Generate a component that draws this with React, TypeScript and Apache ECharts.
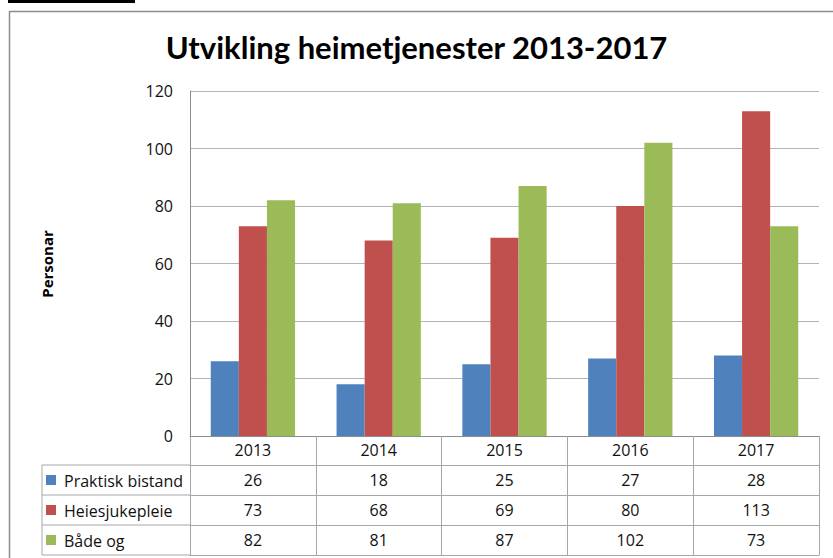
import React, { useEffect, useRef } from "react";
import * as echarts from "echarts";

const years = ["2013", "2014", "2015", "2016", "2017"];
const praktiskBistand = [26, 18, 25, 27, 28];
const heimesjukepleie = [73, 68, 69, 80, 113];
const baadeOg = [82, 81, 87, 102, 73];
const seriesNames = ["Praktisk bistand", "Heiesjukepleie", "Både og"];
const seriesValues = [praktiskBistand, heimesjukepleie, baadeOg];
const colors = ["#4F81BD", "#C0504D", "#9BBB59"];
const yMin = 0;
const yMax = 120;
const yStep = 20;

const FONT = "'Open Sans', sans-serif";

export default function App() {
  const ref = useRef<HTMLDivElement>(null);
  useEffect(() => {
    if (!ref.current) return;
    const chart = echarts.init(ref.current, undefined, { renderer: "svg" });
    const gridLeft = 190;
    const gridRight = 14;
    const gridTop = 91;
    const gridBottom = 122;
    const axisY = 558 - gridBottom; // 436
    const rowH = 30;
    const firstRowTop = axisY + 29;
    const tableLeft = 42;
    const lineColor = "#a6a6a6";
    const fs = 16;

    const valueAxes = seriesValues.map((vals, i) => ({
      type: "category",
      data: vals.map(String),
      position: "bottom",
      offset: 29 + i * rowH,
      axisLine: { show: true, lineStyle: { color: lineColor, width: 1 } },
      axisTick: { show: false },
      axisLabel: { show: true, interval: 0, margin: 7, fontSize: fs, color: "#111", fontFamily: FONT },
      splitLine: { show: false },
    }));

    const legendGraphics: any[] = [];
    seriesNames.forEach((name, i) => {
      const top = firstRowTop + i * rowH;
      legendGraphics.push({
        type: "rect",
        shape: { x: 46, y: top + 10, width: 10, height: 10 },
        style: { fill: colors[i] },
      });
      legendGraphics.push({
        type: "text",
        x: 64,
        y: top + rowH / 2 + 1,
        style: { text: name, fontSize: fs, fontFamily: FONT, fill: "#111", verticalAlign: "middle", align: "left" },
      });
      legendGraphics.push({
        type: "line",
        shape: { x1: tableLeft, y1: top, x2: gridLeft, y2: top },
        style: { stroke: lineColor, lineWidth: 1 },
      });
    });
    legendGraphics.push({
      type: "line",
      shape: { x1: tableLeft, y1: firstRowTop + 3 * rowH, x2: gridLeft, y2: firstRowTop + 3 * rowH },
      style: { stroke: lineColor, lineWidth: 1 },
    });
    legendGraphics.push({
      type: "line",
      shape: { x1: tableLeft, y1: firstRowTop, x2: tableLeft, y2: firstRowTop + 3 * rowH },
      style: { stroke: lineColor, lineWidth: 1 },
    });

    chart.setOption({
      animation: false,
      backgroundColor: "#ffffff",
      title: {
        text: "Utvikling heimetjenester 2013-2017",
        left: "center",
        top: 26,
        textStyle: { fontSize: 31, fontWeight: "bold", color: "#000", fontFamily: "Lato, sans-serif" },
      },
      grid: { left: gridLeft, right: gridRight, top: gridTop, bottom: gridBottom },
      xAxis: [
        {
          type: "category",
          data: years,
          axisLine: { show: true, lineStyle: { color: "#8c8c8c", width: 1 } },
          axisTick: { show: true, interval: 0, length: 29 + 3 * rowH, alignWithLabel: false, lineStyle: { color: lineColor } },
          axisLabel: { interval: 0, margin: 6, fontSize: fs, color: "#111", fontFamily: FONT },
          splitLine: { show: false },
        },
        ...valueAxes,
        {
          type: "category",
          data: years,
          position: "bottom",
          offset: 29 + 3 * rowH,
          axisLine: { show: true, lineStyle: { color: lineColor, width: 1 } },
          axisTick: { show: false },
          axisLabel: { show: false },
        },
      ],
      yAxis: {
        type: "value",
        min: yMin,
        max: yMax,
        interval: yStep,
        axisLine: { show: true, lineStyle: { color: "#8c8c8c" } },
        axisTick: { show: false },
        axisLabel: { fontSize: fs, margin: 17, color: "#111", fontFamily: FONT },
        splitLine: { show: true, lineStyle: { color: "#b3b3b3", width: 1 } },
      },
      series: seriesNames.map((name, i) => ({
        name,
        type: "bar",
        data: seriesValues[i],
        itemStyle: { color: colors[i] },
        barGap: "0%",
        barCategoryGap: "33%",
      })),
      graphic: [
        { type: "rect", shape: { x: 8, y: 0, width: 127, height: 3 }, style: { fill: "#000" } },
        { type: "line", shape: { x1: 10, y1: 11.5, x2: 833, y2: 11.5 }, style: { stroke: "#8c8c8c", lineWidth: 1.5 } },
        { type: "line", shape: { x1: 9.5, y1: 11, x2: 9.5, y2: 558 }, style: { stroke: "#8c8c8c", lineWidth: 1.5 } },
        {
          type: "text",
          x: 46.5,
          y: 264,
          rotation: Math.PI / 2,
          style: { text: "Personar", fontSize: 15, fontWeight: "bold", fontFamily: FONT, fill: "#000", align: "center", verticalAlign: "middle" },
        },
        ...legendGraphics,
      ],
    });
    return () => chart.dispose();
  }, []);
  return <div ref={ref} style={{ position: "absolute", left: 0, top: 0, width: 833, height: 558 }} />;
}
